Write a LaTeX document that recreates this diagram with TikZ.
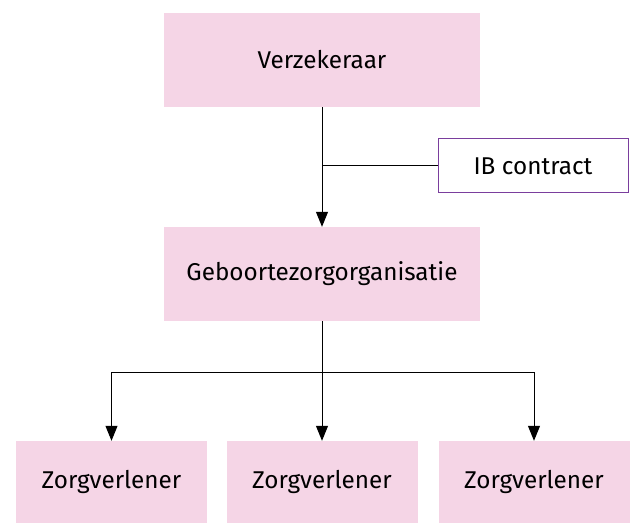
\documentclass[tikz,border=0pt]{standalone}
\usepackage{fontspec}
\setsansfont{Fira Sans}
\usetikzlibrary{arrows.meta}
\definecolor{orgpink}{HTML}{F5D5E6}
\definecolor{ibpurple}{HTML}{7A3E9D}

\begin{document}
\begin{tikzpicture}[
    x=1pt, y=-1pt,
    org/.style={rectangle, fill=orgpink, inner sep=0pt, font=\sffamily\fontsize{24.3}{27}\selectfont},
    topbox/.style={org, minimum width=316pt, minimum height=94pt},
    carer/.style={org, minimum width=191pt, minimum height=82pt},
    contract/.style={rectangle, draw=ibpurple, line width=1pt, fill=white, minimum width=190pt, minimum height=54pt, inner sep=0pt, font=\sffamily\fontsize{24.3}{27}\selectfont},
    link/.style={line width=1pt, draw=black},
    link_arrow/.style={link, -{Triangle[length=15pt, width=12pt]}}
]
    \useasboundingbox (0,0) rectangle (630,524);
    % Insurer
    \node[topbox] (verz) at (322,60) {Verzekeraar};
    % Contract
    \node[contract] (ib) at (533,166) {IB contract};
    % Organisation
    \node[topbox] (geb) at (322,274) {Geboortezorgorganisatie};
    % Care providers
    \node[carer] (z1) at (111.5,482) {Zorgverlener};
    \node[carer] (z2) at (322,482) {Zorgverlener};
    \node[carer] (z3) at (534,482) {Zorgverlener};
    \coordinate (split) at (322,372);
    % Arrows
    \draw[link_arrow] (verz.south) -- (geb.north);
    \draw[link] (ib.west) -- (ib.west -| verz.south);
    \draw[link_arrow] (geb.south) -- (z2.north);
    \draw[link_arrow] (split) -| (z1.north);
    \draw[link_arrow] (split) -| (z3.north);
\end{tikzpicture}
\end{document}
